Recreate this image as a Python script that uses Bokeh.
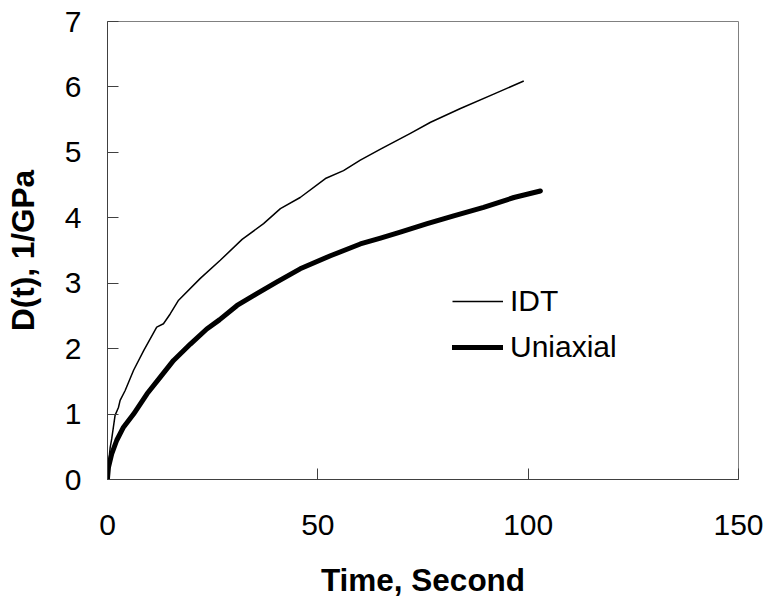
from bokeh.plotting import figure
from bokeh.models import Range1d, Legend, LegendItem, FixedTicker
from bokeh.embed import file_html
from bokeh.resources import INLINE

# Data
idt_time = [0, 0.24, 0.64, 1.0, 1.4, 1.8, 2.6, 3.0, 4.2, 6.2, 8.6, 11.7, 13.3, 14.9, 16.9,
            22.0, 26.8, 32.0, 37.1, 41.1, 45.8, 51.8, 56.1, 60.1, 64.9, 72.0, 76.8, 83.9, 91.8, 98.95]
idt_d = [0.03, 0.24, 0.49, 0.62, 0.80, 0.98, 1.10, 1.21, 1.36, 1.67, 1.97, 2.33, 2.38, 2.53, 2.74,
         3.07, 3.35, 3.67, 3.91, 4.14, 4.31, 4.60, 4.72, 4.88, 5.05, 5.29, 5.46, 5.67, 5.89, 6.09]

uni_time = [0, 0.24, 1.0, 2.2, 3.8, 6.2, 9.4, 12.5, 15.7, 19.7, 23.6, 26.6, 30.8, 35.5, 40.3,
            45.8, 53.0, 60.1, 64.9, 69.6, 76.0, 82.3, 89.4, 96.6, 102.9]
uni_d = [0.02, 0.19, 0.39, 0.60, 0.80, 1.00, 1.31, 1.56, 1.82, 2.07, 2.30, 2.44, 2.66, 2.84, 3.02,
         3.22, 3.42, 3.60, 3.69, 3.78, 3.91, 4.03, 4.16, 4.31, 4.41]

x_ticks = [0, 50, 100, 150]
y_ticks = [0, 1, 2, 3, 4, 5, 6, 7]
x_title = "Time, Second"
y_title = "D(t), 1/GPa"
series_names = ["IDT", "Uniaxial"]

FONT = "Liberation Sans"

p = figure(width=770, height=603, output_backend="svg", toolbar_location=None,
           x_range=Range1d(0, 150), y_range=Range1d(0, 7),
           min_border_left=107, min_border_right=32, min_border_top=21, min_border_bottom=124)
p.background_fill_color = "white"
p.border_fill_color = "white"
p.outline_line_color = "#808080"
p.outline_line_width = 1
p.xgrid.visible = False
p.ygrid.visible = False

r_idt = p.line(idt_time, idt_d, line_color="black", line_width=1.5, line_join="round")
r_uni = p.line(uni_time, uni_d, line_color="black", line_width=5, line_join="round", line_cap="round")

for ax, ticks in ((p.xaxis[0], x_ticks), (p.yaxis[0], y_ticks)):
    ax.ticker = FixedTicker(ticks=ticks)
    ax.minor_tick_line_color = None
    ax.major_tick_in = 11
    ax.major_tick_out = 0
    ax.axis_line_color = "#404040"
    ax.major_tick_line_color = "#404040"
    ax.major_label_text_font = FONT
    ax.major_label_text_font_size = "30px"
    ax.major_label_text_color = "black"
    ax.axis_label_text_font = FONT
    ax.axis_label_text_font_size = "31.5px"
    ax.axis_label_text_font_style = "bold"
    ax.axis_label_text_color = "black"

p.xaxis.axis_label = x_title
p.yaxis.axis_label = y_title
p.xaxis.major_label_standoff = 35
p.yaxis.major_label_standoff = 26
p.xaxis.axis_label_standoff = 24
p.yaxis.axis_label_standoff = 21

legend = Legend(items=[LegendItem(label=series_names[0], renderers=[r_idt]),
                       LegendItem(label=series_names[1], renderers=[r_uni])],
                location=(345, 112), orientation="vertical",
                border_line_color=None, background_fill_alpha=0,
                label_text_font=FONT, label_text_font_size="30px", label_text_color="black",
                glyph_width=51, glyph_height=40, label_height=40, label_standoff=7,
                spacing=6, padding=0, margin=0)
p.add_layout(legend, "center")

open("out.html", "w").write(file_html(p, INLINE))
